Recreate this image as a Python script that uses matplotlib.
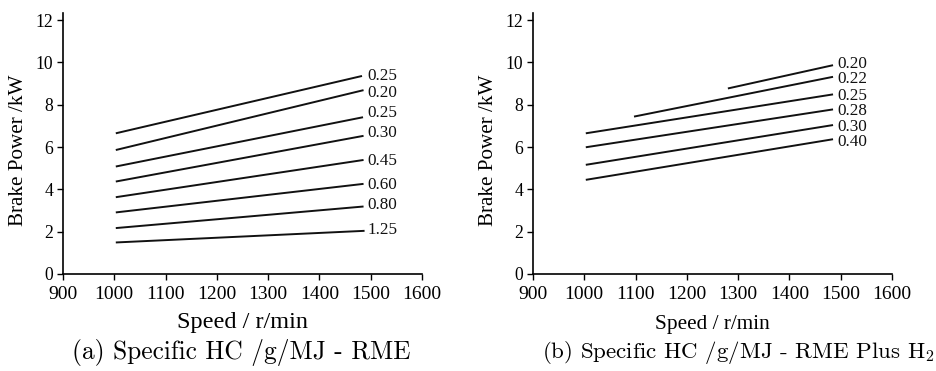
import matplotlib
matplotlib.use("Agg")
import matplotlib.pyplot as plt

# ---------------- data ----------------
# Panel (a): RME
a_labels = ["0.25", "0.20", "0.25", "0.30", "0.45", "0.60", "0.80", "1.25"]
a_x_start = [1003, 1003, 1003, 1003, 1003, 1003, 1003, 1003]
a_x_end = [1483, 1486, 1485, 1486, 1486, 1486, 1486, 1488]
a_y_start = [6.65, 5.86, 5.08, 4.37, 3.63, 2.91, 2.17, 1.49]
a_y_end = [9.36, 8.69, 7.41, 6.53, 5.39, 4.26, 3.19, 2.04]

# Panel (b): RME Plus H2
b_labels = ["0.20", "0.22", "0.25", "0.28", "0.30", "0.40"]
b_x_start = [1280, 1097, 1003, 1003, 1003, 1003]
b_x_end = [1485, 1485, 1485, 1485, 1485, 1485]
b_y_start = [8.77, 7.44, 6.65, 5.99, 5.16, 4.45]
b_y_end = [9.87, 9.32, 8.49, 7.78, 7.04, 6.37]

x_ticks = [900, 1000, 1100, 1200, 1300, 1400, 1500, 1600]
y_ticks = [0, 2, 4, 6, 8, 10, 12]

# ---------------- layout / style ----------------
a_label_dy = [0.0, -0.15, 0.18, 0.12, -0.04, -0.05, 0.08, 0.05]
b_label_dy = [0.04, -0.11, -0.08, -0.08, -0.08, -0.15]
label_x = 1493

serif = ["Liberation Serif", "DejaVu Serif"]
plt.rcParams["mathtext.fontset"] = "cm"

fig = plt.figure(figsize=(9.37, 3.71), dpi=100)
ax_a = fig.add_axes([0.0672, 0.2615, 0.3832, 0.7025])
ax_b = fig.add_axes([0.5688, 0.2615, 0.3832, 0.7025])


def setup(ax, xlabel_size, xlabel_pad):
    ax.set_xlim(900, 1600)
    ax.set_ylim(0, 12.32)
    ax.set_xticks(x_ticks)
    ax.set_yticks(y_ticks)
    ax.spines["top"].set_visible(False)
    ax.spines["right"].set_visible(False)
    for s in ("left", "bottom"):
        ax.spines[s].set_linewidth(1.2)
    ax.tick_params(axis="both", direction="out", length=4, width=1.0)
    ax.tick_params(axis="x", pad=5)
    ax.tick_params(axis="y", pad=3)
    for t in ax.get_xticklabels():
        t.set_fontfamily(serif)
        t.set_fontsize(14)
    for t in ax.get_yticklabels():
        t.set_fontfamily(serif)
        t.set_fontsize(12.7)
    ax.set_xlabel("Speed / r/min", fontfamily=serif, fontsize=xlabel_size,
                  labelpad=xlabel_pad)
    ax.set_ylabel("Brake Power /kW", fontfamily=serif, fontsize=15.2)
    ax.yaxis.set_label_coords(-0.096, 0.475)


def draw(ax, labels, xs, xe, ys, ye, dys, fsize):
    for lab, x0, x1, y0, y1, dy in zip(labels, xs, xe, ys, ye, dys):
        ax.plot([x0, x1], [y0, y1], color="#111111", lw=1.4, solid_capstyle="butt")
        ax.text(label_x, y1 + dy, lab, fontfamily=serif, fontsize=fsize,
                ha="left", va="center", color="#111111")


setup(ax_a, 17.5, 6)
setup(ax_b, 15.3, 8)
draw(ax_a, a_labels, a_x_start, a_x_end, a_y_start, a_y_end, a_label_dy, 12.3)
draw(ax_b, b_labels, b_x_start, b_x_end, b_y_start, b_y_end, b_label_dy, 12.3)

cap_font = "cmr10"
fig.text(0.258, 0.051, r"(a) Specific HC /g/MJ - RME", fontfamily=cap_font,
         fontsize=18.3, ha="center", va="center")
fig.text(0.788, 0.051, r"(b) Specific HC /g/MJ - RME Plus H$_2$", fontfamily=cap_font,
         fontsize=16.5, ha="center", va="center")

fig.savefig("out.png", dpi=100, facecolor="white")
